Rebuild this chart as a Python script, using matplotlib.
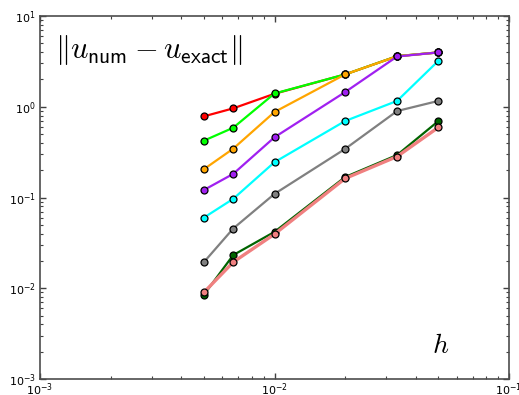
import numpy as np
import matplotlib
matplotlib.use("Agg")
import matplotlib.pyplot as plt

plt.rcParams["mathtext.fontset"] = "cm"
plt.rcParams["font.family"] = ["DejaVu Sans"]

# grid spacings
h = [1/200, 1/150, 1/100, 1/50, 1/30, 1/20]

# error norms, one curve per configuration
err_red = [0.784, 0.96, 1.39, 2.27, 3.61, 3.97]
err_green = [0.423, 0.587, 1.40, 2.27, 3.61, 3.97]
err_orange = [0.205, 0.345, 0.875, 2.27, 3.60, 3.97]
err_purple = [0.121, 0.182, 0.461, 1.45, 3.58, 3.97]
err_cyan = [0.060, 0.0966, 0.245, 0.696, 1.16, 3.21]
err_gray = [0.0194, 0.0455, 0.1096, 0.343, 0.897, 1.16]
err_darkgreen = [0.00848, 0.0232, 0.0418, 0.168, 0.294, 0.696]
err_pink = [0.0090, 0.0194, 0.0395, 0.162, 0.283, 0.593]

series = [
    (err_red, "red", 1.6),
    (err_green, "lime", 1.6),
    (err_orange, "orange", 1.6),
    (err_purple, "#a020f0", 1.6),
    (err_cyan, "cyan", 1.6),
    (err_gray, "gray", 1.6),
    (err_darkgreen, "darkgreen", 1.6),
    (err_pink, "#f08080", 2.4),
]

fig = plt.figure(figsize=(5.19, 3.95), dpi=100)
ax = fig.add_axes([40/519, 1 - 379/395, 469/519, 363/395])

for vals, col, lw in series:
    ax.plot(h, vals, "-o", color=col, lw=lw, ms=5, mfc=col, mec="black",
            mew=0.9)

ax.set_xscale("log")
ax.set_yscale("log")
ax.set_xlim(1e-3, 1e-1)
ax.set_ylim(1e-3, 1e1)

ax.tick_params(which="both", direction="in", top=True, right=True,
               labelsize=8, color="0.25")
ax.tick_params(which="major", length=4, width=1)
ax.tick_params(which="minor", length=2, width=0.8)
ax.tick_params(axis="x", which="both", pad=1.5)
ax.tick_params(axis="y", which="both", pad=3)
for s in ax.spines.values():
    s.set_color("0.3")
    s.set_linewidth(1.2)

ax.text(0.032, 0.905, r"$\|u_{\mathsf{num}} - u_{\mathsf{exact}}\|$",
        transform=ax.transAxes, fontsize=22, ha="left", va="center")
ax.text(0.855, 0.095, r"$h$", transform=ax.transAxes, fontsize=20,
        ha="center", va="center")

fig.savefig("out.png", dpi=100)
